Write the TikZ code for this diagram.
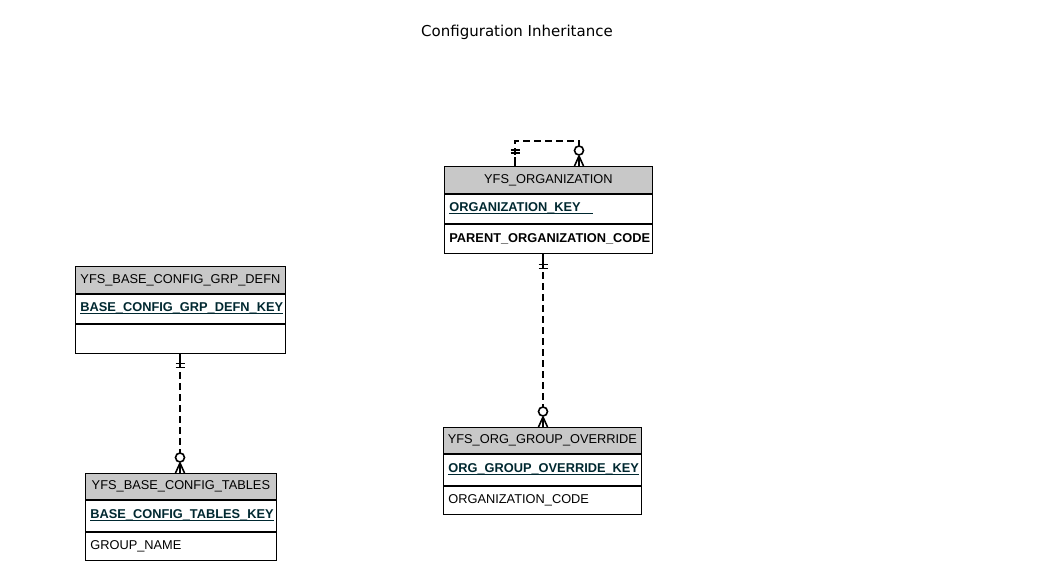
\documentclass[tikz,border=0pt]{standalone}
\usepackage{fontspec}
\setmainfont{Liberation Sans}
\newfontfamily\titlefont{DejaVu Sans}
\definecolor{hdrgray}{RGB}{200,200,200}
\definecolor{keycol}{RGB}{0,40,48}
\newcommand\ulkey[2][0pt]{\setbox0\hbox{#2\hspace{#1}}\rlap{\rule[-2.5pt]{\wd0}{1.2pt}}\box0}
\begin{document}
\begin{tikzpicture}[x=1pt,y=-1pt,
  every node/.style={font=\fontsize{12.8}{14}\selectfont},
  hdr/.style={draw, line width=0.8pt, fill=hdrgray, minimum height=27, inner sep=0, anchor=north west},
  row/.style={draw, line width=0.8pt, inner xsep=5, inner ysep=0, anchor=north west, align=left, minimum height=29},
  keytxt/.style={font=\fontsize{12.8}{14}\selectfont\bfseries, text=keycol},
  rel/.style={line width=1.6pt, dash pattern=on 7pt off 4pt},
  mk/.style={line width=1.6pt}]
\useasboundingbox (0,0) rectangle (1054,580);
\node[font=\titlefont\fontsize{15}{17}\selectfont] (title) at (517,32) {Configuration Inheritance};

% YFS_ORGANIZATION
\node[hdr, minimum width=208] (orgH) at (444,166) {YFS\_ORGANIZATION};
\node[row, text width=198, keytxt] (orgK) at (orgH.south west) {\ulkey[12pt]{ORGANIZATION\_KEY}};
\node[row, text width=198, font=\fontsize{12.8}{14}\selectfont\bfseries] (orgA) at (orgK.south west) {PARENT\_ORGANIZATION\_CODE};

% YFS_BASE_CONFIG_GRP_DEFN
\node[hdr, minimum width=210] (grpH) at (75,266) {YFS\_BASE\_CONFIG\_GRP\_DEFN};
\node[row, text width=200, keytxt] (grpK) at (grpH.south west) {\ulkey{BASE\_CONFIG\_GRP\_DEFN\_KEY}};
\node[row, text width=200] (grpA) at (grpK.south west) {};

% YFS_BASE_CONFIG_TABLES
\node[hdr, minimum width=191, minimum height=26] (tabH) at (85,473) {YFS\_BASE\_CONFIG\_TABLES};
\node[row, text width=181, minimum height=31, keytxt] (tabK) at (tabH.south west) {\ulkey{BASE\_CONFIG\_TABLES\_KEY}};
\node[row, text width=181, minimum height=28] (tabA) at (tabK.south west) {GROUP\_NAME};

% YFS_ORG_GROUP_OVERRIDE
\node[hdr, minimum width=198, minimum height=26] (ogoH) at (443,427) {YFS\_ORG\_GROUP\_OVERRIDE};
\node[row, text width=188, minimum height=31, keytxt] (ogoK) at (ogoH.south west) {\ulkey{ORG\_GROUP\_OVERRIDE\_KEY}};
\node[row, text width=188, minimum height=28] (ogoA) at (ogoK.south west) {ORGANIZATION\_CODE};

% connector endpoints
\coordinate (s1) at ([shift={(71,0)}]orgH.north west);
\coordinate (e1) at ([shift={(135,0)}]orgH.north west);
\coordinate (s2) at (orgA.south -| 543,0);
\coordinate (e2) at (ogoH.north -| 543,0);
\coordinate (s3) at (grpA.south -| 180,0);
\coordinate (e3) at (tabH.north -| 180,0);

% self loop on YFS_ORGANIZATION
\draw[rel] (s1) -- ++(0,-25) -| ([shift={(0,-20)}]e1);
\draw[mk] (s1) -- ++(0,-9);
\draw[mk] ([shift={(-4.5,-13)}]s1) -- ++(9,0) ([shift={(-4.5,-16)}]s1) -- ++(9,0);
\draw[mk] ([shift={(0,-15.5)}]e1) circle (4.5);
\draw[mk] ([shift={(0,-10)}]e1) -- ([shift={(-4.5,0)}]e1) ([shift={(0,-10)}]e1) -- (e1) ([shift={(0,-10)}]e1) -- ([shift={(4.5,0)}]e1);

% YFS_ORGANIZATION -> YFS_ORG_GROUP_OVERRIDE
\draw[mk] (s2) -- ++(0,8);
\draw[rel] ([shift={(0,8)}]s2) -- ([shift={(0,-20)}]e2);
\draw[mk] ([shift={(-4.5,11)}]s2) -- ++(9,0) ([shift={(-4.5,15)}]s2) -- ++(9,0);
\draw[mk] ([shift={(0,-15.5)}]e2) circle (4.5);
\draw[mk] ([shift={(0,-10)}]e2) -- ([shift={(-4.5,0)}]e2) ([shift={(0,-10)}]e2) -- (e2) ([shift={(0,-10)}]e2) -- ([shift={(4.5,0)}]e2);

% YFS_BASE_CONFIG_GRP_DEFN -> YFS_BASE_CONFIG_TABLES
\draw[mk] (s3) -- ++(0,8);
\draw[rel] ([shift={(0,8)}]s3) -- ([shift={(0,-20)}]e3);
\draw[mk] ([shift={(-4.5,10)}]s3) -- ++(9,0) ([shift={(-4.5,14)}]s3) -- ++(9,0);
\draw[mk] ([shift={(0,-15.5)}]e3) circle (4.5);
\draw[mk] ([shift={(0,-10)}]e3) -- ([shift={(-4.5,0)}]e3) ([shift={(0,-10)}]e3) -- (e3) ([shift={(0,-10)}]e3) -- ([shift={(4.5,0)}]e3);
\end{tikzpicture}
\end{document}
